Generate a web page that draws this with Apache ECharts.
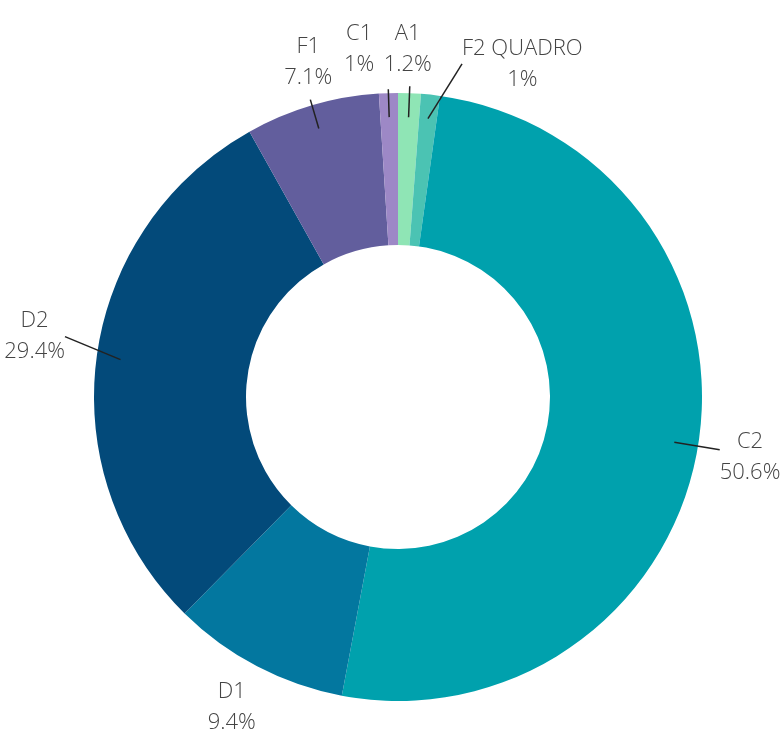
<!DOCTYPE html>
<html>
<head>
<meta charset="utf-8">
<script src="https://cdn.jsdelivr.net/npm/echarts@6/dist/echarts.min.js"></script>
<style>
  html, body { margin: 0; padding: 0; background: #fff; }
</style>
</head>
<body>
<div id="chart" style="width: 783px; height: 738px"></div>
<script>
// categories clockwise from 12 o'clock
const categories = ['A1', 'F2 QUADRO', 'C2', 'D1', 'D2', 'F1', 'C1']
const shares = [1.2, 1, 50.6, 9.4, 29.4, 7.1, 1]
const colors = ['#8fe5b5', '#4bc3b3', '#00a1ad', '#03779f', '#034a7a', '#625e9d', '#9d88c6']

// label line lengths and where the text sits relative to the line end
const lineLen = [31, 57, 46, 70, 52, 30, 28]
const placeOf = ['top', 'upRight', 'right', 'below', 'left', 'top', 'topLeft']

const center = [398, 397]

const chart = echarts.init(document.getElementById('chart'))

const slices = categories.map((name, i) => ({
  name: name,
  value: shares[i],
  itemStyle: { color: colors[i] }
}))

const labelItems = categories.map((name, i) => ({
  name: name,
  value: shares[i],
  labelLine: {
    show: placeOf[i] !== 'below',
    length: lineLen[i],
    length2: 0
  }
}))

chart.setOption({
  animation: false,
  series: [
    {
      type: 'pie',
      center: center,
      radius: [152, 304],
      startAngle: 90,
      clockwise: true,
      silent: true,
      label: { show: false },
      labelLine: { show: false },
      data: slices
    },
    {
      // transparent twin so the label lines start inside the ring
      type: 'pie',
      z: 5,
      center: center,
      radius: [150, 280],
      startAngle: 90,
      clockwise: true,
      silent: true,
      avoidLabelOverlap: false,
      itemStyle: { color: 'rgba(0,0,0,0)' },
      label: {
        show: true,
        formatter: '{b}\n{c}%',
        fontFamily: 'Open Sans',
        fontWeight: 300,
        fontSize: 22,
        lineHeight: 31,
        color: '#444'
      },
      labelLine: {
        show: true,
        lineStyle: { color: '#222', width: 1.5 }
      },
      labelLayout: function (p) {
        const pts = p.labelLinePoints
        if (!pts) return {}
        const end = pts[pts.length - 1]
        const w = p.labelRect.width
        const keep = pts.map((pt) => pt.slice())
        const place = placeOf[p.dataIndex]
        if (place === 'top') {
          return { x: end[0] - 2, y: end[1] - 6, align: 'center', verticalAlign: 'bottom', labelLinePoints: keep }
        }
        if (place === 'topLeft') {
          return { x: end[0] - w / 2 - 14, y: end[1] - 9, align: 'center', verticalAlign: 'bottom', labelLinePoints: keep }
        }
        if (place === 'upRight') {
          // line is pulled over to the label's corner
          return { x: end[0] + w / 2 + 28, y: end[1] + 2, align: 'center', verticalAlign: 'middle' }
        }
        if (place === 'right') {
          return { x: end[0] + w / 2, y: end[1] + 8, align: 'center', verticalAlign: 'middle', labelLinePoints: keep }
        }
        if (place === 'left') {
          return { x: end[0] - w / 2 - 4, y: end[1] - 16, align: 'center', verticalAlign: 'middle' }
        }
        return { x: end[0] - 4, y: end[1], align: 'center', verticalAlign: 'middle' }
      },
      data: labelItems
    }
  ]
})
</script>
</body>
</html>
